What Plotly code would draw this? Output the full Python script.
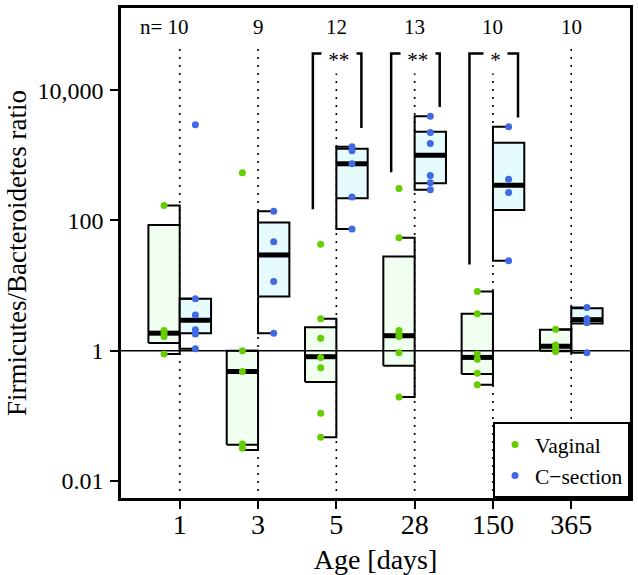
import math
import plotly.graph_objects as go

# ---------------- data ----------------
categories = ["1", "3", "5", "28", "150", "365"]
n_labels = ["n= 10", "9", "12", "13", "10", "10"]

vaginal_points = [
    [170, 2.05, 1.85, 1.65, 0.89],
    [537, 1.0, 0.48, 0.037, 0.032],
    [43, 3.1, 1.55, 0.79, 0.55, 0.11, 0.047],
    [309, 54, 2.04, 1.82, 1.66, 0.93, 0.195],
    [8.1, 3.7, 0.89, 0.74, 0.45, 0.30],
    [2.14, 1.23, 1.1, 0.97],
]
csection_points = [
    [2950, 6.3, 3.55, 2.1, 1.8, 1.07],
    [138, 47, 11.5, 1.86],
    [1350, 1175, 740, 229, 74],
    [3980, 2240, 1510, 490, 380, 295],
    [2750, 427, 269, 24],
    [4.6, 3.1, 2.7, 0.93],
]

# box statistics: whisker low, Q1, median, Q3, whisker high
vaginal_wlo = [0.89, 0.030, 0.047, 0.195, 0.30, 0.98]
vaginal_q1 = [1.32, 0.036, 0.33, 0.59, 0.44, 1.0]
vaginal_med = [1.86, 0.48, 0.81, 1.7, 0.79, 1.17]
vaginal_q3 = [85, 1.0, 2.3, 28, 3.7, 2.1]
vaginal_whi = [170, 1.0, 3.1, 54, 8.1, 2.14]

cs_wlo = [1.07, 1.86, 74, 295, 24, 0.93]
cs_q1 = [1.86, 6.8, 219, 372, 145, 2.63]
cs_med = [2.95, 29.5, 740, 1000, 347, 3.0]
cs_q3 = [6.3, 93, 1260, 2290, 1550, 4.47]
cs_whi = [6.3, 138, 1350, 3980, 2750, 4.6]

# significance brackets
sig_days = ["5", "28", "150"]
sig_labels = ["**", "**", "*"]
sig_left_end = [148, 550, 21]
sig_right_end = [2630, 5500, 3800]
sig_top = 36300

y_tickvals = [0.01, 1, 100, 10000]
y_ticktext = ["0.01", "1", "100", "10,000"]

# ---------------- style constants ----------------
FONT = "Liberation Serif"
GREEN = "#66CD00"
BLUE = "#4169E1"
V_FILL = "#F0FFF0"
C_FILL = "#E6FBFD"
BOX_W = 0.40
PT_OFF = 0.20
BR_L = 0.30
BR_R = 0.32
N_Y = 10 ** 4.97
DOT_TOP = 10 ** 4.63
DOT_BOT = 10 ** -2.17

fig = go.Figure()

# dotted category lines
dx, dy = [], []
for i, _ in enumerate(categories):
    dx += [i, i, None]
    dy += [DOT_TOP, DOT_BOT, None]
fig.add_trace(go.Scatter(x=dx, y=dy, mode="lines", showlegend=False, hoverinfo="skip",
                         line=dict(color="black", width=1.6, dash="2px,6px")))

# boxes
for i, _ in enumerate(categories):
    for side, q1, q3, fill in ((-1, vaginal_q1[i], vaginal_q3[i], V_FILL),
                               (1, cs_q1[i], cs_q3[i], C_FILL)):
        x0, x1 = (i - BOX_W, i) if side < 0 else (i, i + BOX_W)
        fig.add_trace(go.Scatter(x=[x0, x1, x1, x0, x0], y=[q1, q1, q3, q3, q1],
                                 mode="lines", fill="toself", fillcolor=fill,
                                 line=dict(color="black", width=2), showlegend=False,
                                 hoverinfo="skip"))

# whiskers
wx, wy = [], []
for i, _ in enumerate(categories):
    wx += [i, i, i - PT_OFF, None, i, i, i - PT_OFF, None]
    wy += [vaginal_q3[i], vaginal_whi[i], vaginal_whi[i], None,
           vaginal_q1[i], vaginal_wlo[i], vaginal_wlo[i], None]
    wx += [i, i, i + PT_OFF, None, i, i, i + PT_OFF, None]
    wy += [cs_q3[i], cs_whi[i], cs_whi[i], None,
           cs_q1[i], cs_wlo[i], cs_wlo[i], None]
fig.add_trace(go.Scatter(x=wx, y=wy, mode="lines", showlegend=False, hoverinfo="skip",
                         line=dict(color="black", width=2)))

# medians
mx, my = [], []
for i, _ in enumerate(categories):
    mx += [i - BOX_W, i, None, i, i + BOX_W, None]
    my += [vaginal_med[i], vaginal_med[i], None, cs_med[i], cs_med[i], None]
fig.add_trace(go.Scatter(x=mx, y=my, mode="lines", showlegend=False, hoverinfo="skip",
                         line=dict(color="black", width=5)))

# reference line at ratio 1
fig.add_trace(go.Scatter(x=[-0.75, len(categories) - 0.25], y=[1, 1], mode="lines",
                         showlegend=False, hoverinfo="skip",
                         line=dict(color="black", width=1.6)))

# significance brackets
bx, by = [], []
for d, lo_l, lo_r in zip(sig_days, sig_left_end, sig_right_end):
    i = categories.index(d)
    bx += [i - BR_L, i - BR_L, i + BR_R, i + BR_R, None]
    by += [lo_l, sig_top, sig_top, lo_r, None]
fig.add_trace(go.Scatter(x=bx, y=by, mode="lines", showlegend=False, hoverinfo="skip",
                         line=dict(color="black", width=2.5)))

# points
vx, vy, cx, cy = [], [], [], []
for i, _ in enumerate(categories):
    vx += [i - PT_OFF] * len(vaginal_points[i])
    vy += vaginal_points[i]
    cx += [i + PT_OFF] * len(csection_points[i])
    cy += csection_points[i]
fig.add_trace(go.Scatter(x=vx, y=vy, mode="markers", name="Vaginal",
                         marker=dict(color=GREEN, size=7)))
fig.add_trace(go.Scatter(x=cx, y=cy, mode="markers", name="C\u2212section",
                         marker=dict(color=BLUE, size=7)))

# annotations (log axis: annotation y is given in log10 units)
annotations = []
for i, lab in enumerate(n_labels):
    a = dict(x=i, y=math.log10(N_Y), yref="y", xref="x", text=lab, showarrow=False,
             font=dict(size=21, family=FONT))
    if i == 0:
        a.update(xanchor="right", xshift=11)
    annotations.append(a)
for d, lab in zip(sig_days, sig_labels):
    i = categories.index(d)
    annotations.append(dict(x=i, y=math.log10(sig_top), xref="x", yref="y",
                            text="\u00a0" + lab + "\u00a0", showarrow=False,
                            bgcolor="white", borderpad=1, xshift=3, yshift=-6,
                            font=dict(size=21, family=FONT)))

fig.update_layout(
    width=638, height=575,
    margin=dict(l=121, r=8, t=8, b=77),
    paper_bgcolor="white", plot_bgcolor="white",
    font=dict(family=FONT, color="black"),
    annotations=annotations,
    legend=dict(x=1, y=0, xanchor="right", yanchor="bottom", bgcolor="white",
                bordercolor="black", borderwidth=2, font=dict(size=21.5, family=FONT),
                tracegroupgap=0),
    xaxis=dict(range=[-0.75, len(categories) - 0.25], tickmode="array",
               tickvals=list(range(len(categories))), ticktext=categories,
               ticks="outside", ticklen=8, tickwidth=2, tickcolor="black",
               showline=True, linewidth=2.5, linecolor="black", mirror=True,
               showgrid=False, zeroline=False, automargin=False,
               ticklabelstandoff=-8,
               tickfont=dict(size=28, family=FONT),
               title=dict(text="Age [days]", font=dict(size=28, family=FONT), standoff=19)),
    yaxis=dict(type="log", range=[-2.26, 5.26], tickmode="array",
               tickvals=y_tickvals, ticktext=y_ticktext,
               ticks="outside", ticklen=8, tickwidth=2, tickcolor="black",
               showline=True, linewidth=2.5, linecolor="black", mirror=True,
               showgrid=False, zeroline=False, automargin=False,
               ticklabelstandoff=2,
               tickfont=dict(size=24, family=FONT),
               title=dict(text="Firmicutes/Bacteroidetes ratio",
                          font=dict(size=27, family=FONT), standoff=4)),
)

fig.write_html("out.html", config={"displayModeBar": False},
               post_script="document.body.style.margin='0px';")
